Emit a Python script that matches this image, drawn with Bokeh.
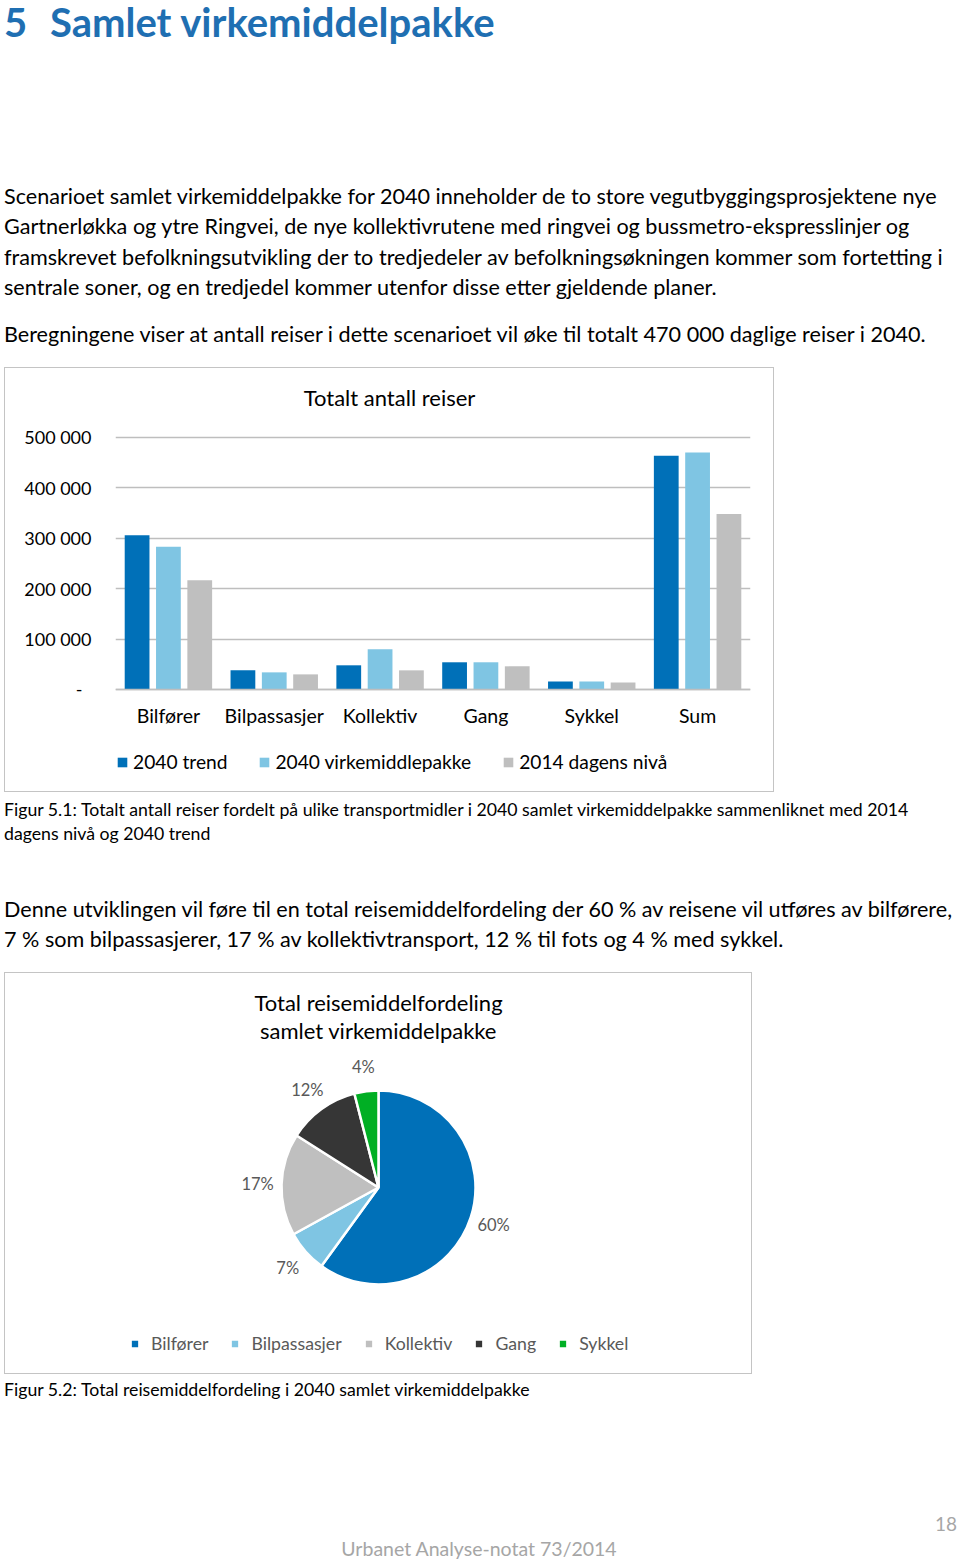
import math
from bokeh.plotting import figure
from bokeh.models import (Div, FactorRange, Range1d, Legend, LegendItem, Label,
                          FixedTicker, ColumnDataSource)
from bokeh.core.properties import value
from bokeh.layouts import column
from bokeh.transform import dodge
from bokeh.embed import file_html
from bokeh.resources import INLINE

# ---------------- data ----------------
categories = ["Bilfører", "Bilpassasjer", "Kollektiv", "Gang", "Sykkel", "Sum"]
trend_2040 = [306000, 38000, 48000, 54000, 16000, 464000]
virkemiddel_2040 = [283000, 34000, 80000, 54000, 16000, 470000]
dagens_2014 = [217000, 30000, 38000, 46000, 14000, 348000]
series_names = ["2040 trend", "2040 virkemiddlepakke", "2014 dagens nivå"]
y_ticks = [0, 100000, 200000, 300000, 400000, 500000]
y_tick_labels = ["-", "100 000", "200 000", "300 000", "400 000", "500 000"]

pie_categories = ["Bilfører", "Bilpassasjer", "Kollektiv", "Gang", "Sykkel"]
pie_shares = [60, 7, 17, 12, 4]

# ---------------- styles ----------------
FONT = "Lato"
C_TREND = "#0070B8"
C_VIRK = "#7FC5E3"
C_2014 = "#BFBFBF"
C_GANG = "#363636"
C_SYKKEL = "#00AF24"
PIE_COLORS = [C_TREND, C_VIRK, C_2014, C_GANG, C_SYKKEL]
BOX = {"outline": "1px solid #c4c4c4", "outline-offset": "0px"}

# ---------------- text blocks ----------------
BODY = "font-family:Lato; color:#000; white-space:nowrap;"
P = "font-size:21.6px; line-height:30.3px; padding-left:4px;"
div_a = Div(width=958, height=367, margin=0, text=f"""
<div style="{BODY} width:958px;">
 <div style="font-size:40px; font-weight:bold; color:#1F6FB2; line-height:44px; padding-left:4px;"><span style="display:inline-block; width:46px;">5</span>Samlet virkemiddelpakke</div>
 <div style="margin-top:137px; {P}">
 Scenarioet samlet virkemiddelpakke for 2040 inneholder de to store vegutbyggingsprosjektene nye<br>
 Gartnerløkka og ytre Ringvei, de nye kollektivrutene med ringvei og bussmetro-ekspresslinjer og<br>
 framskrevet befolkningsutvikling der to tredjedeler av befolkningsøkningen kommer som fortetting i<br>
 sentrale soner, og en tredjedel kommer utenfor disse etter gjeldende planer.</div>
 <div style="margin-top:17px; {P}">
 Beregningene viser at antall reiser i dette scenarioet vil øke til totalt 470 000 daglige reiser i 2040.</div>
</div>""")

div_b = Div(width=958, height=180, margin=0, text=f"""
<div style="{BODY} width:958px;">
 <div style="margin-top:6px; font-size:17.7px; line-height:24px; padding-left:4px;">
 Figur 5.1: Totalt antall reiser fordelt på ulike transportmidler i 2040 samlet virkemiddelpakke sammenliknet med 2014<br>
 dagens nivå og 2040 trend</div>
 <div style="margin-top:48px; {P}">
 Denne utviklingen vil føre til en total reisemiddelfordeling der 60 % av reisene vil utføres av bilførere,<br>
 7 % som bilpassasjerer, 17 % av kollektivtransport, 12 % til fots og 4 % med sykkel.</div>
</div>""")

div_c = Div(width=958, height=179, margin=0, text=f"""
<div style="{BODY} width:958px;">
 <div style="margin-top:4px; font-size:17.7px; line-height:24px; padding-left:4px;">
 Figur 5.2: Total reisemiddelfordeling i 2040 samlet virkemiddelpakke</div>
 <div style="margin-top:112px; font-size:19px; line-height:20px; text-align:right; padding-right:1px; color:#A6A6A6;">18</div>
 <div style="margin-top:6px; font-size:19.5px; line-height:18px; text-align:center; color:#A6A6A6;">Urbanet Analyse-notat 73/2014</div>
</div>""")

# ---------------- bar chart ----------------
# The plot frame spans nearly the whole box so that title and legend can sit
# inside it; the category axis is pinned at zero.
src = ColumnDataSource(dict(cat=categories, trend=trend_2040,
                            virk=virkemiddel_2040, dagens=dagens_2014))
bar = figure(x_range=FactorRange(*categories, range_padding=0),
             y_range=Range1d(-202381, 613095), width=768, height=423,
             output_backend="svg", toolbar_location=None,
             min_border_left=110, min_border_right=23, min_border_top=12,
             min_border_bottom=0, outline_line_color=None,
             background_fill_color="white", border_fill_color="white",
             styles=BOX, margin=(1, 0, 1, 5))

renderers = []
for field, off, col in [("trend", -0.296, C_TREND), ("virk", 0.0, C_VIRK),
                        ("dagens", 0.296, C_2014)]:
    r = bar.vbar(x=dodge("cat", off, range=bar.x_range), top=field, width=0.234,
                 source=src, fill_color=col, line_color=None)
    renderers.append(r)

bar.add_layout(Label(x=2.589, y=579365, text="Totalt antall reiser",
                     text_align="center", text_baseline="middle",
                     text_font=FONT, text_font_size="22px",
                     text_color="#000000"))

bar.yaxis.ticker = FixedTicker(ticks=y_ticks)
bar.yaxis.major_label_overrides = {t: (lab + "\u2002" if lab == "-" else lab)
                                   for t, lab in zip(y_ticks, y_tick_labels)}
bar.yaxis.axis_line_color = None
bar.yaxis.major_tick_line_color = None
bar.yaxis.minor_tick_line_color = None
bar.yaxis.major_tick_out = 0
bar.yaxis.major_tick_in = 0
bar.yaxis.major_label_standoff = 24
bar.yaxis.major_label_text_font = FONT
bar.yaxis.major_label_text_font_size = "18px"
bar.yaxis.major_label_text_color = "#000000"

bar.xaxis.fixed_location = 0
bar.xaxis.axis_line_color = "#BEBEBE"
bar.xaxis.axis_line_width = 1.3
bar.xaxis.major_tick_line_color = None
bar.xaxis.minor_tick_line_color = None
bar.xaxis.major_tick_out = 0
bar.xaxis.major_tick_in = 0
bar.xaxis.major_label_standoff = 15
bar.xaxis.major_label_text_font = FONT
bar.xaxis.major_label_text_font_size = "19.5px"
bar.xaxis.major_label_text_color = "#000000"

bar.xgrid.grid_line_color = None
bar.ygrid.grid_line_color = "#BEBEBE"
bar.ygrid.grid_line_width = 1.3

bar_legend = Legend(items=[LegendItem(label=n, renderers=[r])
                           for n, r in zip(series_names, renderers)],
                    orientation="horizontal", location=(1, 18),
                    glyph_width=12, glyph_height=12, label_standoff=5,
                    spacing=31, padding=0, margin=0,
                    border_line_color=None, background_fill_alpha=0,
                    label_text_font=FONT, label_text_font_size="19.2px",
                    label_text_color="#000000")
bar.add_layout(bar_legend)

# ---------------- pie chart ----------------
starts, ends, mids = [], [], []
acc = 0.0
for s in pie_shares:
    a0 = math.pi / 2 - acc / 100 * 2 * math.pi
    a1 = a0 - s / 100 * 2 * math.pi
    starts.append(a0)
    ends.append(a1)
    mids.append((a0 + a1) / 2)
    acc += s

R = 97
R_LAB = 121
psrc = ColumnDataSource(dict(cat=pie_categories, share=pie_shares,
                             start=starts, end=ends, color=PIE_COLORS,
                             lx=[R_LAB * math.cos(m) for m in mids],
                             ly=[R_LAB * math.sin(m) for m in mids],
                             lab=[f"{s}%" for s in pie_shares]))

# frame borders match the bar chart (the column aligns plot frames)
pie = figure(width=746, height=400, x_range=Range1d(-263, 350),
             y_range=Range1d(-186, 214), output_backend="svg",
             toolbar_location=None, min_border_left=110, min_border_right=23,
             min_border_top=0, min_border_bottom=0, outline_line_color=None,
             x_axis_location=None, y_axis_location=None,
             background_fill_color="white", border_fill_color="white",
             styles=BOX, margin=(1, 0, 1, 5))
pie.grid.visible = False

wedges = pie.wedge(x=0, y=0, radius=R, start_angle="start", end_angle="end",
                   direction="clock", fill_color="color", line_color="white",
                   line_width=2.5, source=psrc)
pie.text(x="lx", y="ly", text="lab", source=psrc, text_align="center",
         text_baseline="middle", text_font=value(FONT), text_font_size="16.5px",
         text_color="#595959")

pie.add_layout(Label(x=0, y=185, text="Total reisemiddelfordeling",
                     text_align="center", text_baseline="middle",
                     text_font=FONT, text_font_size="22px", text_color="#000000"))
pie.add_layout(Label(x=0, y=157, text="samlet virkemiddelpakke",
                     text_align="center", text_baseline="middle",
                     text_font=FONT, text_font_size="22px", text_color="#000000"))

pie_legend = Legend(items=[LegendItem(label=c, renderers=[wedges], index=i)
                           for i, c in enumerate(pie_categories)],
                    orientation="horizontal", location=(14, 19),
                    glyph_width=11, glyph_height=11, label_standoff=11,
                    spacing=21, padding=0, margin=0,
                    border_line_color=None, background_fill_alpha=0,
                    label_text_font=FONT, label_text_font_size="17.7px",
                    label_text_color="#595959")
pie.add_layout(pie_legend)

page = column(div_a, bar, div_b, pie, div_c, spacing=0)

with open("out.html", "w") as f:
    f.write(file_html(page, INLINE))
